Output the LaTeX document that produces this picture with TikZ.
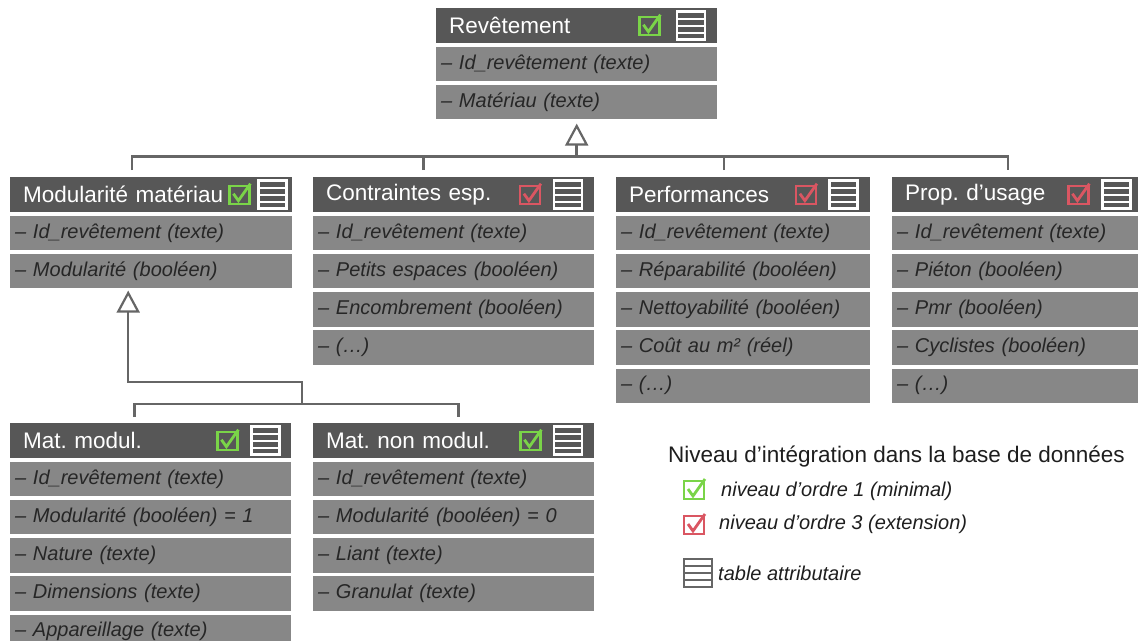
\documentclass[tikz,border=0pt]{standalone}
\usepackage{fontspec}
\setmainfont{Liberation Sans}
\usepackage{tikz}
\usetikzlibrary{arrows.meta,calc,positioning}
\frenchspacing
\definecolor{hdgray}{RGB}{87,87,87}
\definecolor{rowgray}{RGB}{135,135,135}
\definecolor{rowtext}{RGB}{38,38,38}
\definecolor{legtext}{RGB}{30,30,30}
\definecolor{linegray}{RGB}{102,102,102}
\definecolor{okgreen}{RGB}{122,212,72}
\definecolor{extred}{RGB}{218,86,98}

\begin{document}
\begin{tikzpicture}[x=1pt, y=-1pt,
  hdr/.style={fill=hdgray, text=white, anchor=north west, font=\fontsize{22.5}{26}\selectfont,
    minimum height=35pt, inner xsep=13pt, inner ysep=0pt, align=left,
    text width=\the\dimexpr#1pt-26pt\relax},
  attr/.style={fill=rowgray, text=rowtext, font=\fontsize{20}{24}\selectfont\itshape,
    minimum height=34.2pt, inner xsep=5pt, inner ysep=0pt, align=left,
    text width=\the\dimexpr#1pt-10pt\relax},
  legitem/.style={anchor=west, inner sep=0pt, text=legtext, font=\fontsize{20}{24}\selectfont\itshape},
  conn/.style={draw=linegray, line width=2.5pt},
  inh/.style={conn, -{Triangle[open, length=22pt, width=23pt, line width=2.2pt]}},
  chk/.pic={\draw[line width=2.4pt] (-10,-9) rectangle (10,9);
    \draw[line width=2.8pt] (-6,-1) -- (-1,6) -- (11,-11);},
  tbl/.pic={\draw[line width=2.8pt] (-14,-14) rectangle (14,14);
    \foreach \k in {-7,0,7} \draw[line width=2pt] (-14,\k) -- (14,\k);}
]
\useasboundingbox (0,0) rectangle (1138,640);

% --- classe mere ---
\node[hdr=281] (rev) at (436,8) {Revêtement};
\node[attr=281, below=3.5pt of rev] (rev1) {– Id\_revêtement (texte)};
\node[attr=281, below=3.5pt of rev1] (rev2) {– Matériau (texte)};
\pic[color=okgreen] at ([xshift=-68pt]rev.east) {chk};
\pic[color=white] at ([xshift=-26.5pt]rev.east) {tbl};

% --- sous-classes ---
\node[hdr=282] (mod) at (10,177) {Modularité matériau};
\node[attr=282, below=3.5pt of mod] (mod1) {– Id\_revêtement (texte)};
\node[attr=282, below=3.5pt of mod1] (mod2) {– Modularité (booléen)};
\pic[color=okgreen] at ([xshift=-53pt]mod.east) {chk};
\pic[color=white] at ([xshift=-20pt]mod.east) {tbl};

\node[hdr=281] (cont) at (313,177) {Contraintes esp.};
\node[attr=281, below=3.5pt of cont] (cont1) {– Id\_revêtement (texte)};
\node[attr=281, below=3.5pt of cont1] (cont2) {– Petits espaces (booléen)};
\node[attr=281, below=3.5pt of cont2] (cont3) {– Encombrement (booléen)};
\node[attr=281, below=3.5pt of cont3] (cont4) {– (…)};
\pic[color=extred] at ([xshift=-64.5pt]cont.east) {chk};
\pic[color=white] at ([xshift=-26.5pt]cont.east) {tbl};

\node[hdr=254] (perf) at (616,177) {Performances};
\node[attr=254, below=3.5pt of perf] (perf1) {– Id\_revêtement (texte)};
\node[attr=254, below=3.5pt of perf1] (perf2) {– Réparabilité (booléen)};
\node[attr=254, below=3.5pt of perf2] (perf3) {– Nettoyabilité (booléen)};
\node[attr=254, below=3.5pt of perf3] (perf4) {– Coût au m² (réel)};
\node[attr=254, below=3.5pt of perf4] (perf5) {– (…)};
\pic[color=extred] at ([xshift=-64.5pt]perf.east) {chk};
\pic[color=white] at ([xshift=-27pt]perf.east) {tbl};

\node[hdr=246] (prop) at (892,177) {Prop. d’usage};
\node[attr=246, below=3.5pt of prop] (prop1) {– Id\_revêtement (texte)};
\node[attr=246, below=3.5pt of prop1] (prop2) {– Piéton (booléen)};
\node[attr=246, below=3.5pt of prop2] (prop3) {– Pmr (booléen)};
\node[attr=246, below=3.5pt of prop3] (prop4) {– Cyclistes (booléen)};
\node[attr=246, below=3.5pt of prop4] (prop5) {– (…)};
\pic[color=extred] at ([xshift=-60pt]prop.east) {chk};
\pic[color=white] at ([xshift=-22pt]prop.east) {tbl};

% --- materiaux ---
\node[hdr=281] (mmod) at (10,423) {Mat. modul.};
\node[attr=281, below=3.5pt of mmod] (mmod1) {– Id\_revêtement (texte)};
\node[attr=281, below=3.5pt of mmod1] (mmod2) {– Modularité (booléen) = 1};
\node[attr=281, below=3.5pt of mmod2] (mmod3) {– Nature (texte)};
\node[attr=281, below=3.5pt of mmod3] (mmod4) {– Dimensions (texte)};
\node[attr=281, below=3.5pt of mmod4] (mmod5) {– Appareillage (texte)};
\pic[color=okgreen] at ([xshift=-64pt]mmod.east) {chk};
\pic[color=white] at ([xshift=-26pt]mmod.east) {tbl};

\node[hdr=281] (nmod) at (313,423) {Mat. non modul.};
\node[attr=281, below=3.5pt of nmod] (nmod1) {– Id\_revêtement (texte)};
\node[attr=281, below=3.5pt of nmod1] (nmod2) {– Modularité (booléen) = 0};
\node[attr=281, below=3.5pt of nmod2] (nmod3) {– Liant (texte)};
\node[attr=281, below=3.5pt of nmod3] (nmod4) {– Granulat (texte)};
\pic[color=okgreen] at ([xshift=-64pt]nmod.east) {chk};
\pic[color=white] at ([xshift=-26.5pt]nmod.east) {tbl};

% --- heritage ---
\coordinate (bus) at ([yshift=-37pt]rev2.south);
\draw[inh] (bus) -- ([yshift=-4pt]rev2.south);
\draw[conn] ([shift={(-19,-7)}]mod.north) |- (bus) -| ([shift={(-7,-7)}]prop.north);
\draw[conn] ([shift={(-30,-7)}]cont.north) |- (bus);
\draw[conn] ([shift={(-19,-7)}]perf.north) |- (bus);

\coordinate (bus2) at (302,404);
\draw[inh] (bus2) -- ++(0,-22) -| ([shift={(-23,2)}]mod2.south);
\draw[conn] ([shift={(-16,-6)}]mmod.north) |- (bus2) -| ([shift={(5,-6)}]nmod.north);

% --- legende ---
\node[anchor=west, inner sep=0pt, text=legtext, font=\fontsize{22.5}{26}\selectfont] (legtitle) at (668,457) {Niveau d’intégration dans la base de données};
\pic[color=okgreen] at (694,490) {chk};
\node[legitem] (leg1) at (721,491) {niveau d’ordre 1 (minimal)};
\pic[color=extred] at (694,525) {chk};
\node[legitem] (leg3) at (719,524) {niveau d’ordre 3 (extension)};
\pic[color=linegray] at (698,573) {tbl};
\node[legitem] (legtbl) at (718,573) {table attributaire};
\end{tikzpicture}
\end{document}
